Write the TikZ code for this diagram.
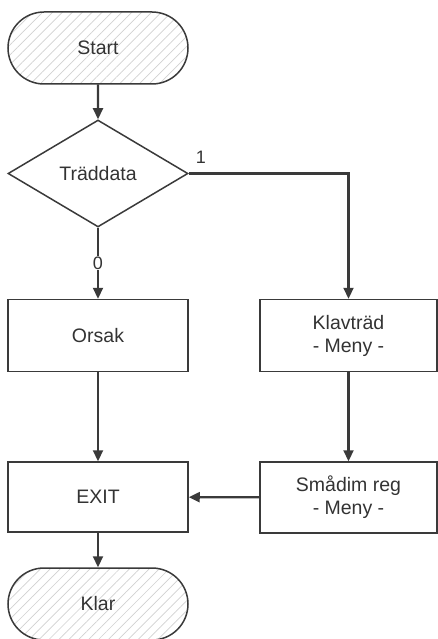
\documentclass[tikz,border=0pt]{standalone}
\usepackage{fontspec}
\setmainfont{Liberation Sans}
\usetikzlibrary{shapes.geometric,shapes.misc,arrows.meta,patterns.meta}
\definecolor{edge}{HTML}{3A3A3A}
\definecolor{txt}{HTML}{333333}
\begin{document}
\begin{tikzpicture}[x=1pt,y=-1pt,
  base/.style={draw=edge,line width=1.5pt,text=txt,inner sep=0pt,align=center,
    font=\fontsize{19.5}{23}\selectfont},
  term/.style={base,rounded rectangle,minimum width=180pt,minimum height=72pt,
    pattern={Lines[angle=45,distance=7pt,line width=0.7pt]},pattern color=black!18},
  proc/.style={base,rectangle,minimum width=180pt,minimum height=72pt},
  dec/.style={base,diamond,minimum width=180pt,minimum height=107pt,aspect=1.68},
  conn/.style={draw=edge,line width=2.2pt,-{Triangle[width=10pt,length=11pt]}},
  lab/.style={text=txt,inner sep=1pt,font=\fontsize{18}{20}\selectfont}
]
\useasboundingbox (0,0) rectangle (438,639);
\node[term] (start) at (98,48) {Start};
\node[dec] (d) at (98,173.5) {Träddata};
\node[proc] (orsak) at (98,335.5) {Orsak};
\node[proc,minimum width=177pt] (klav) at (348.5,335.5) {Klavträd\\- Meny -};
\node[proc,minimum height=70pt] (exit) at (98,497) {EXIT};
\node[proc,minimum width=177pt,minimum height=71pt] (smad) at (348.5,497.5) {Smådim reg\\- Meny -};
\node[term] (klar) at (98,604) {Klar};
\draw[conn] (start) -- (d);
\draw[conn] (d.east) -| (klav.north);
\draw[conn] (d.south) -- (orsak.north);
\node[lab,fill=white] (l0) at (98,263) {0};
\node[lab] (l1) at (201,157) {1};
\draw[conn] (orsak) -- (exit);
\draw[conn] (klav) -- (smad);
\draw[conn] (smad) -- (exit);
\draw[conn] (exit) -- (klar);
\end{tikzpicture}
\end{document}
